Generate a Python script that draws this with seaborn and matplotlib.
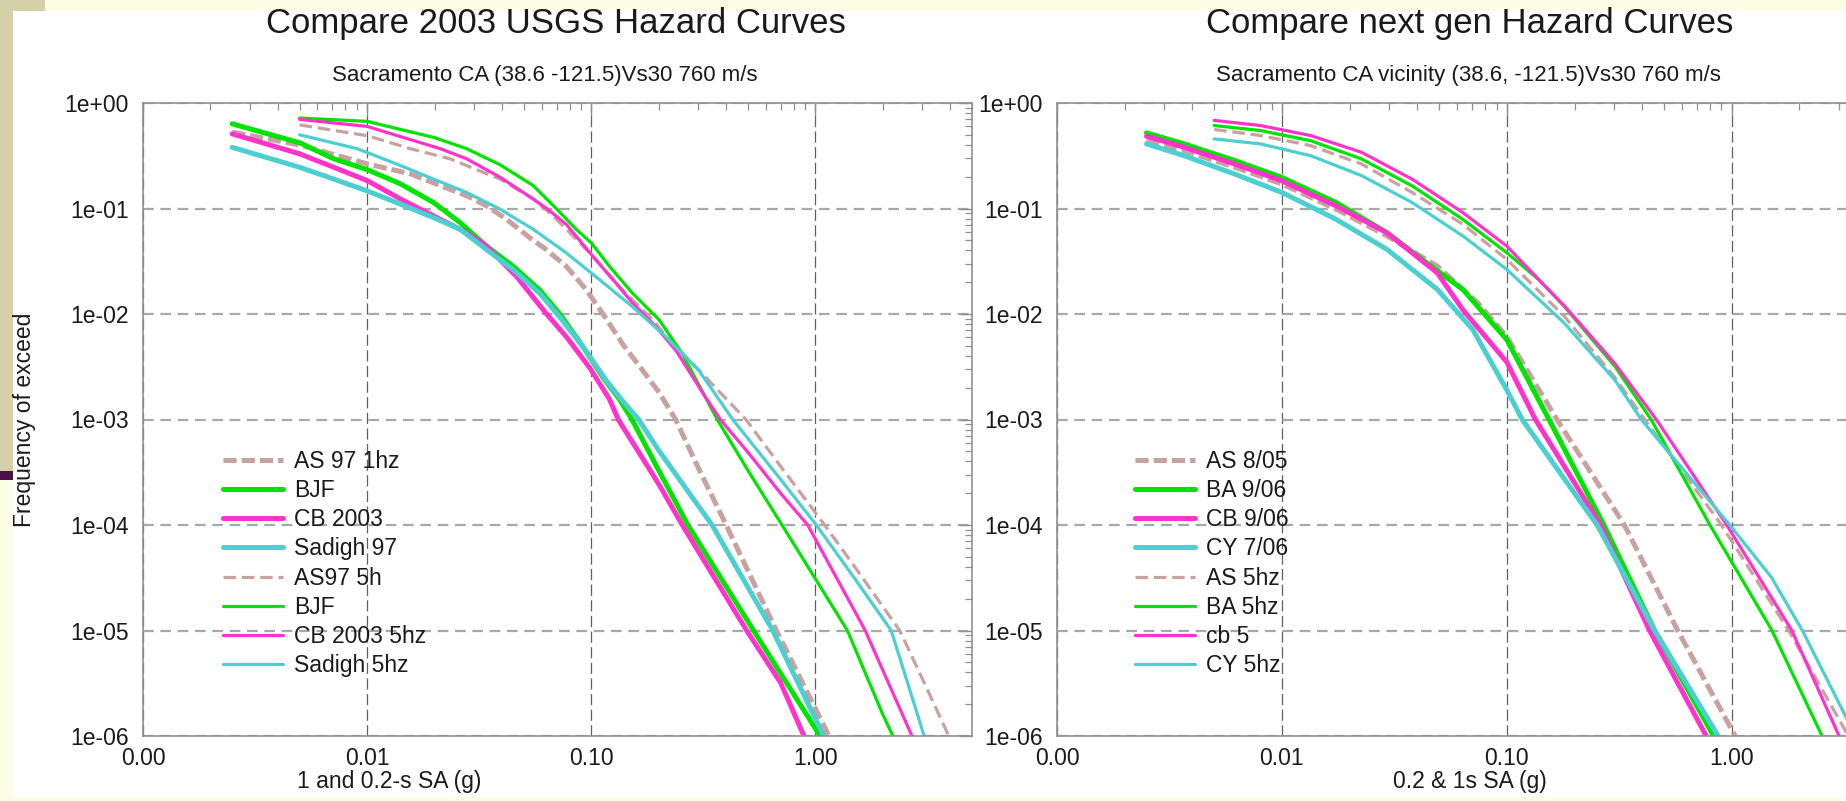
import numpy as np
import pandas as pd
import matplotlib
matplotlib.use("Agg")
import matplotlib.pyplot as plt
import seaborn as sns
from matplotlib.ticker import FixedLocator, FormatStrFormatter, LogLocator, NullFormatter
from matplotlib.patches import Rectangle

# ---------------- data ----------------
# Left panel: 2003 USGS models (1 Hz thick, 5 Hz thin)
l_as97_1hz_x = [0.0025, 0.005, 0.01, 0.0156, 0.0212, 0.0278, 0.0341, 0.0419, 0.0532, 0.063, 0.0774, 0.095,
                0.1167, 0.138, 0.17, 0.201, 0.238, 0.3, 0.4, 0.67, 1.15, 1.5]
l_as97_1hz_y = [0.53, 0.40, 0.265, 0.213, 0.165, 0.132, 0.106, 0.079, 0.0528, 0.0408, 0.0283, 0.017,
                9.0e-3, 5.2e-3, 2.9e-3, 1.8e-3, 1e-3, 3.5e-4, 1e-4, 1e-5, 1e-6, 3e-7]
l_bjf_1hz_x = [0.0025, 0.005, 0.0071, 0.01, 0.0141, 0.0198, 0.026, 0.0341, 0.0449, 0.0589, 0.0722, 0.0918,
               0.1129, 0.1336, 0.152, 0.2, 0.27, 0.53, 1.05, 1.4]
l_bjf_1hz_y = [0.635, 0.42, 0.296, 0.234, 0.171, 0.114, 0.0735, 0.044, 0.0283, 0.0169, 0.0101, 4.9e-3,
               2.5e-3, 1.56e-3, 1e-3, 3.3e-4, 1e-4, 1e-5, 1e-6, 1.5e-7]
l_cb03_1hz_x = [0.0025, 0.005, 0.0071, 0.01, 0.0141, 0.0198, 0.0278, 0.0341, 0.0464, 0.063, 0.0774, 0.0984,
                0.1206, 0.132, 0.2, 0.255, 0.494, 0.7, 0.89, 1.1]
l_cb03_1hz_y = [0.51, 0.33, 0.246, 0.184, 0.123, 0.085, 0.059, 0.044, 0.0227, 0.0101, 6.1e-3, 3.1e-3,
                1.56e-3, 1e-3, 2.45e-4, 1e-4, 1e-5, 3.2e-6, 1e-6, 2e-7]
l_sad97_1hz_x = [0.0025, 0.005, 0.0071, 0.01, 0.0141, 0.0198, 0.026, 0.0341, 0.0449, 0.0589, 0.0722, 0.0918,
                 0.1167, 0.138, 0.163, 0.2, 0.346, 0.646, 1.09, 1.4]
l_sad97_1hz_y = [0.38, 0.246, 0.19, 0.147, 0.11, 0.082, 0.0635, 0.0408, 0.0263, 0.0157, 9.4e-3, 4.9e-3,
                 2.34e-3, 1.5e-3, 1e-3, 5.1e-4, 1e-4, 1e-5, 1e-6, 1.5e-7]

l_as97_5hz_x = [0.005, 0.01, 0.0156, 0.0234, 0.0392, 0.0551, 0.0676, 0.083, 0.1016, 0.129, 0.153, 0.188,
                0.231, 0.283, 0.49, 0.7, 1.1, 1.5, 2.38, 3.0, 3.94, 5.0]
l_as97_5hz_y = [0.62, 0.49, 0.369, 0.296, 0.19, 0.123, 0.085, 0.0548, 0.0353, 0.0196, 0.0136, 8.8e-3,
                5.2e-3, 3.4e-3, 1e-3, 3.6e-4, 1e-4, 4e-5, 1e-5, 3.5e-6, 1e-6, 2.5e-7]
l_bjf_5hz_x = [0.005, 0.01, 0.02, 0.0278, 0.0392, 0.0551, 0.0698, 0.0857, 0.1, 0.1206, 0.153, 0.201,
               0.255, 0.365, 0.5, 0.71, 1.0, 1.39, 2.0, 2.22, 3.0]
l_bjf_5hz_y = [0.72, 0.67, 0.47, 0.369, 0.26, 0.165, 0.1, 0.0635, 0.0473, 0.0283, 0.0157, 8.8e-3,
               4.2e-3, 1e-3, 3.3e-4, 1e-4, 3.1e-5, 1e-5, 1.6e-6, 1e-6, 2e-7]
l_cb03_5hz_x = [0.005, 0.01, 0.0212, 0.0278, 0.0392, 0.0551, 0.0653, 0.0774, 0.1016, 0.129, 0.153, 0.194,
                0.239, 0.324, 0.377, 0.5, 0.7, 0.925, 1.67, 2.0, 2.7, 3.2]
l_cb03_5hz_y = [0.70, 0.60, 0.369, 0.296, 0.198, 0.123, 0.095, 0.0708, 0.0353, 0.0196, 0.0127, 7.6e-3,
                4.5e-3, 1.62e-3, 1e-3, 4.9e-4, 2.0e-4, 1e-4, 1e-5, 4.2e-6, 1e-6, 2.5e-7]
l_sad_5hz_x = [0.005, 0.00903, 0.01406, 0.0198, 0.0278, 0.0392, 0.0551, 0.0774, 0.109, 0.153, 0.215, 0.303,
               0.428, 0.7, 1.01, 1.5, 2.18, 3.06, 3.6]
l_sad_5hz_y = [0.50, 0.369, 0.256, 0.19, 0.142, 0.0986, 0.0635, 0.038, 0.0211, 0.0117, 6.1e-3, 2.9e-3,
               1e-3, 2.7e-4, 1e-4, 3.1e-5, 1e-5, 1e-6, 2e-7]

# Right panel: next generation models (1 Hz thick, 5 Hz thin)
r_as_805_x = [0.0025, 0.00367, 0.00617, 0.01, 0.0174, 0.0293, 0.0491, 0.0744, 0.1, 0.167, 0.333, 0.575, 1.035, 1.3]
r_as_805_y = [0.44, 0.354, 0.246, 0.171, 0.0986, 0.055, 0.0284, 0.0127, 6.1e-3, 1e-3, 1e-4, 1e-5, 1e-6, 2e-7]
r_ba_906_x = [0.0025, 0.00367, 0.00617, 0.01, 0.0174, 0.0293, 0.042, 0.0637, 0.1, 0.154, 0.27, 0.454, 0.83, 1.1]
r_ba_906_y = [0.521, 0.41, 0.285, 0.197, 0.114, 0.059, 0.0329, 0.0171, 5.7e-3, 1e-3, 1e-4, 1e-5, 1e-6, 1.5e-7]
r_cb_906_x = [0.0025, 0.00367, 0.00617, 0.01, 0.0174, 0.0293, 0.0491, 0.0637, 0.1, 0.134, 0.261, 0.431, 0.77, 1.05]
r_cb_906_y = [0.485, 0.381, 0.264, 0.183, 0.106, 0.059, 0.0245, 0.011, 3.5e-3, 1e-3, 1e-4, 1e-5, 1e-6, 1.5e-7]
r_cy_706_x = [0.0025, 0.00367, 0.00617, 0.01, 0.0174, 0.0293, 0.0491, 0.0706, 0.1, 0.117, 0.252, 0.454, 0.87, 1.2]
r_cy_706_y = [0.41, 0.317, 0.212, 0.142, 0.079, 0.041, 0.0171, 7.1e-3, 1.9e-3, 1e-3, 1e-4, 1e-5, 1e-6, 1.5e-7]

r_as_5hz_x = [0.005, 0.008, 0.0134, 0.0226, 0.0379, 0.0637, 0.1, 0.18, 0.302, 0.41, 0.9, 1.79, 3.3, 4.5]
r_as_5hz_y = [0.561, 0.492, 0.395, 0.264, 0.142, 0.071, 0.0329, 9.5e-3, 2.5e-3, 1e-3, 1e-4, 1e-5, 1e-6, 2e-7]
r_ba_5hz_x = [0.005, 0.008, 0.0134, 0.0226, 0.0379, 0.0637, 0.1, 0.1386, 0.18, 0.302, 0.438, 0.80, 1.51, 2.52, 3.2]
r_ba_5hz_y = [0.612, 0.549, 0.44, 0.295, 0.164, 0.079, 0.0381, 0.0212, 0.0118, 3.2e-3, 1e-3, 1e-4, 1e-5, 1e-6, 2e-7]
r_cb_5_x = [0.005, 0.008, 0.0134, 0.0226, 0.0379, 0.0637, 0.1, 0.1386, 0.18, 0.302, 0.462, 0.95, 1.85, 3.0, 3.8]
r_cb_5_y = [0.684, 0.612, 0.492, 0.341, 0.19, 0.0916, 0.044, 0.0212, 0.012, 3.4e-3, 1e-3, 1e-4, 1e-5, 1e-6, 2e-7]
r_cy_5hz_x = [0.005, 0.008, 0.0134, 0.0226, 0.0379, 0.0637, 0.1, 0.18, 0.302, 0.396, 0.98, 1.5, 2.06, 3.55, 4.5]
r_cy_5hz_y = [0.457, 0.41, 0.317, 0.205, 0.114, 0.055, 0.0264, 8.2e-3, 2.37e-3, 1e-3, 1e-4, 3.2e-5, 1e-5, 1e-6, 2.5e-7]

left_labels = ["AS 97 1hz", "BJF", "CB 2003", "Sadigh 97", "AS97 5h", "BJF", "CB 2003 5hz", "Sadigh 5hz"]
right_labels = ["AS 8/05", "BA 9/06", "CB 9/06", "CY 7/06", "AS 5hz", "BA 5hz", "cb 5", "CY 5hz"]
xtick_vals = [0.001, 0.01, 0.1, 1.0]
ytick_vals = [1e-6, 1e-5, 1e-4, 1e-3, 1e-2, 1e-1, 1e0]

left_title = "Compare 2003 USGS Hazard Curves"
left_sub = "Sacramento CA (38.6 -121.5)Vs30 760 m/s"
right_title = "Compare next gen Hazard Curves"
right_sub = "Sacramento CA vicinity (38.6, -121.5)Vs30 760 m/s"
left_xlabel = "1 and 0.2-s SA (g)"
right_xlabel = "0.2 & 1s SA (g)"
ylabel = "Frequency of exceed"

# ---------------- style ----------------
C_AS = "#c9a19f"
C_G = "#00e400"
C_M = "#ff33cc"
C_C = "#4ccfd1"
styles = [
    (C_AS, 3.6, True), (C_G, 3.6, False), (C_M, 3.6, False), (C_C, 3.6, False),
    (C_AS, 2.3, True), (C_G, 2.3, False), (C_M, 2.3, False), (C_C, 2.3, False),
]

sns.set_theme(style="white")
plt.rcParams["font.family"] = ["Liberation Sans", "DejaVu Sans"]
plt.rcParams["text.color"] = "#1a1a1a"

W, H = 1846, 801
fig = plt.figure(figsize=(W / 100, H / 100), dpi=100)
fig.patch.set_facecolor("white")

def px_rect(x0, y0, x1, y1, color):
    fig.patches.append(Rectangle((x0 / W, 1 - y1 / H), (x1 - x0) / W, (y1 - y0) / H,
                                 transform=fig.transFigure, facecolor=color,
                                 edgecolor="none", zorder=-10))

LY = "#fcfbe4"
OL = "#d4d0a8"
px_rect(0, 0, W, 11, LY)
px_rect(0, 0, 45, 11, OL)
px_rect(0, 0, 13, 471, OL)
px_rect(0, 471, 13, 480, "#4b1048")
px_rect(0, 480, 13, H, LY)
px_rect(0, 797, W, H, LY)

def make_ax(left_px, width_px):
    top, bottom = 103, 736
    return fig.add_axes([left_px / W, 1 - bottom / H, width_px / W, (bottom - top) / H])

axL = make_ax(143, 829)
axR = make_ax(1057, 832)

left_series = [(l_as97_1hz_x, l_as97_1hz_y), (l_bjf_1hz_x, l_bjf_1hz_y), (l_cb03_1hz_x, l_cb03_1hz_y),
               (l_sad97_1hz_x, l_sad97_1hz_y), (l_as97_5hz_x, l_as97_5hz_y), (l_bjf_5hz_x, l_bjf_5hz_y),
               (l_cb03_5hz_x, l_cb03_5hz_y), (l_sad_5hz_x, l_sad_5hz_y)]
right_series = [(r_as_805_x, r_as_805_y), (r_ba_906_x, r_ba_906_y), (r_cb_906_x, r_cb_906_y),
                (r_cy_706_x, r_cy_706_y), (r_as_5hz_x, r_as_5hz_y), (r_ba_5hz_x, r_ba_5hz_y),
                (r_cb_5_x, r_cb_5_y), (r_cy_5hz_x, r_cy_5hz_y)]

def draw(ax, series, labels, legend_xy):
    ax.set_xscale("log")
    ax.set_yscale("log")
    for (xs, ys), lab, (col, lw, dashed) in zip(series, labels, styles):
        df = pd.DataFrame({"x": xs, "y": ys})
        if dashed:
            ls = (0, (9.5 / lw, 3.6 / lw)) if lw > 3 else (0, (9.0 / lw, 4.2 / lw))
        else:
            ls = "-"
        sns.lineplot(data=df, x="x", y="y", ax=ax, color=col, lw=lw, linestyle=ls,
                     label=lab, sort=False, estimator=None, legend=False)
    ax.set_xlim(0.001, 5.0)
    ax.set_ylim(1e-6, 1.0)
    ax.xaxis.set_major_locator(FixedLocator(xtick_vals))
    ax.xaxis.set_major_formatter(FormatStrFormatter("%.2f"))
    ax.xaxis.set_minor_locator(LogLocator(base=10, subs=np.arange(2, 10)))
    ax.xaxis.set_minor_formatter(NullFormatter())
    ax.yaxis.set_major_locator(FixedLocator(ytick_vals))
    ax.yaxis.set_major_formatter(FormatStrFormatter("%.0e"))
    ax.yaxis.set_minor_locator(LogLocator(base=10, subs=np.arange(2, 10)))
    ax.yaxis.set_minor_formatter(NullFormatter())
    ax.tick_params(which="both", direction="in", top=True, right=True, colors="#909090",
                   labelcolor="#1a1a1a", labelsize=16.5)
    ax.tick_params(which="major", length=9, width=1.0)
    ax.tick_params(which="minor", length=5, width=0.9)
    ax.tick_params(axis="y", which="major", pad=10)
    ax.tick_params(axis="x", which="major", pad=8)
    ax.set_axisbelow(True)
    ax.grid(True, axis="y", which="major", color="#a8a8a8", lw=1.6, linestyle=(0, (4.8, 3.0)))
    ax.grid(True, axis="x", which="major", color="#606060", lw=0.9, linestyle=(0, (9.0, 3.5)))
    for s in ax.spines.values():
        s.set_color("#909090")
        s.set_linewidth(1.2)
    ax.set_facecolor("white")
    leg = ax.legend(loc="upper left", bbox_to_anchor=legend_xy, frameon=False, fontsize=16.5,
                    handlelength=2.6, handletextpad=0.5, labelspacing=0.27,
                    borderpad=0, borderaxespad=0)
    for t in leg.get_texts():
        t.set_color("#1a1a1a")

draw(axL, left_series, left_labels, (0.0965, 0.452))
draw(axR, right_series, right_labels, (0.094, 0.452))

axL.set_xlabel(left_xlabel, fontsize=16.5, color="#1a1a1a")
axL.xaxis.set_label_coords(0.297, -0.054)
axR.set_xlabel(right_xlabel, fontsize=16.5, color="#1a1a1a")
axR.xaxis.set_label_coords(0.496, -0.054)
axL.set_ylabel(ylabel, fontsize=16.5, color="#1a1a1a")
axL.yaxis.set_label_coords(-0.129, 0.5)
axR.set_ylabel("")

fig.text(556 / W, 1 - 24 / H, left_title, ha="center", va="center", fontsize=25)
fig.text(1470 / W, 1 - 24 / H, right_title, ha="center", va="center", fontsize=25)
fig.text(545 / W, 1 - 75 / H, left_sub, ha="center", va="center", fontsize=16)
fig.text(1468 / W, 1 - 75 / H, right_sub, ha="center", va="center", fontsize=16)

fig.savefig("out.png", dpi=100, facecolor=fig.get_facecolor())
